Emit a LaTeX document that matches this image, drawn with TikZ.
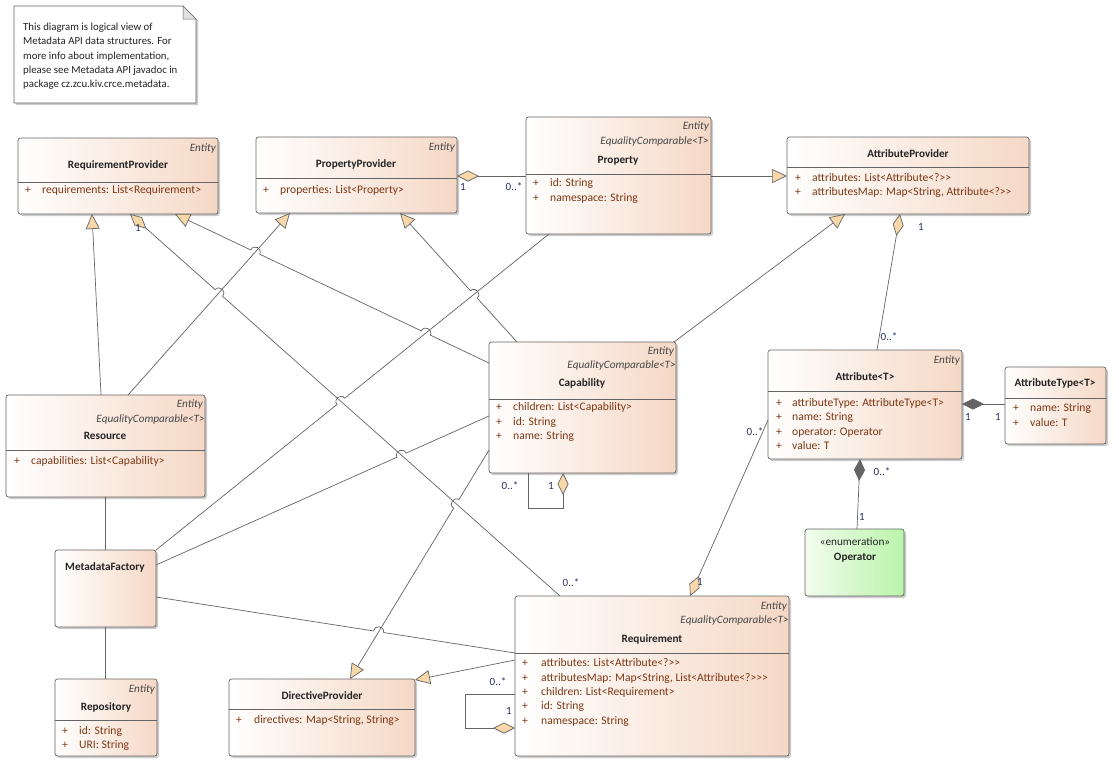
\documentclass[tikz,border=0pt]{standalone}
\usepackage{fontspec}
\setmainfont{Carlito}
\usetikzlibrary{arrows.meta,shadows,calc,intersections}
\definecolor{peach}{RGB}{245,216,198}
\definecolor{bord}{RGB}{100,100,100}
\definecolor{tri}{RGB}{248,215,168}
\definecolor{attc}{RGB}{125,55,20}
\definecolor{lblc}{RGB}{40,48,90}
\definecolor{txtc}{RGB}{35,35,35}
\definecolor{entc}{RGB}{70,70,70}
\definecolor{grnL}{RGB}{242,252,238}
\definecolor{grnR}{RGB}{186,244,170}
\definecolor{foldc}{RGB}{225,225,225}
\tikzset{
  cls/.style={draw=bord, line width=0.7pt, rounded corners=2.5pt, left color=white, right color=peach,
    drop shadow={shadow xshift=2pt,shadow yshift=-2pt,opacity=0.4}, inner sep=0pt, outer sep=0pt, anchor=north west},
  sepl/.style={draw=bord, line width=0.6pt},
  ent/.style={font=\fontsize{11.2}{13}\selectfont\itshape, text=entc, anchor=east, inner sep=0pt, text height=7.5pt, text depth=2pt},
  ttl/.style={font=\fontsize{11.2}{13}\selectfont\bfseries, text=txtc, anchor=center, inner sep=0pt, text height=7.5pt, text depth=2pt},
  att/.style={font=\fontsize{11.6}{13}\selectfont, text=attc, anchor=west, inner sep=0pt, text height=7.5pt, text depth=2pt},
  lab/.style={font=\fontsize{11}{13}\selectfont, text=lblc, inner sep=0pt, text height=7.5pt, text depth=2pt},
  conn/.style={draw=bord, line width=0.7pt},
  gen/.style={conn, -{Triangle[length=15pt,width=14pt,fill=tri]}},
  agg/.style={conn, {Diamond[length=22pt,width=11pt,fill=tri]}-},
  cmp/.style={conn, {Diamond[length=22pt,width=11pt,fill=bord]}-},
  hopl/.style={bend left=90, looseness=1.7},
  hopr/.style={bend right=90, looseness=1.7},
}
\begin{document}
\begin{tikzpicture}[x=1pt,y=-1pt]
\useasboundingbox (0,0) rectangle (1119,766);
\fill[white] (0,0) rectangle (1119,766);

% note
\path[draw=bord, line width=0.6pt, fill=white, drop shadow={shadow xshift=2pt,shadow yshift=-2pt,opacity=0.4}]
  (14,6) -- (183,6) -- (196,19) -- (196,103) -- (14,103) -- cycle;
\path[draw=bord, line width=0.5pt, fill=foldc] (183,6) -- (183,19) -- (196,19) -- cycle;
\node[font=\fontsize{10.8}{14.2}\selectfont, text=txtc, align=left, anchor=north west, inner sep=0pt] (notetext) at (23,23)
  {This diagram is logical view of\\Metadata API data structures. For\\more info about implementation,\\please see Metadata API javadoc in\\package cz.zcu.kiv.crce.metadata.};

% RequirementProvider
\node[cls, minimum width=200pt, minimum height=76pt] (rp) at (18,138) {};
\draw[sepl] (rp.west |- 0,182) -- (rp.east |- 0,182);
\node[ent] (rp-e) at (216,149) {Entity};
\node[ttl] (rp-t) at (118,166) {RequirementProvider};
\node[att] (rp-p1) at (25,191) {+};
\node[att] (rp-a1) at (42,191) {requirements: List<Requirement>};

% PropertyProvider
\node[cls, minimum width=201pt, minimum height=76pt] (pp) at (256,137) {};
\draw[sepl] (pp.west |- 0,178) -- (pp.east |- 0,178);
\node[ent] (pp-e) at (455,148) {Entity};
\node[ttl] (pp-t) at (356,165) {PropertyProvider};
\node[att] (pp-p1) at (263,191) {+};
\node[att] (pp-a1) at (280,191) {properties: List<Property>};

% Property
\node[cls, minimum width=185pt, minimum height=117pt] (prop) at (526,117) {};
\draw[sepl] (prop.west |- 0,174) -- (prop.east |- 0,174);
\node[ent] (prop-e) at (709,127) {Entity};
\node[ent] (prop-c) at (709,142) {EqualityComparable<T>};
\node[ttl] (prop-t) at (618,161) {Property};
\node[att] (prop-p1) at (533,184) {+};
\node[att] (prop-a1) at (550,184) {id: String};
\node[att] (prop-p2) at (533,199) {+};
\node[att] (prop-a2) at (550,199) {namespace: String};

% AttributeProvider
\node[cls, minimum width=242pt, minimum height=77pt] (ap) at (787,137) {};
\draw[sepl] (ap.west |- 0,167) -- (ap.east |- 0,167);
\node[ttl] (ap-t) at (908,155) {AttributeProvider};
\node[att] (ap-p1) at (795,179) {+};
\node[att] (ap-a1) at (812,179) {attributes: List<Attribute<?>{}>};
\node[att] (ap-p2) at (795,193) {+};
\node[att] (ap-a2) at (812,193) {attributesMap: Map<String, Attribute<?>{}>};

% Capability
\node[cls, minimum width=187pt, minimum height=131pt] (cap) at (489,342) {};
\draw[sepl] (cap.west |- 0,399) -- (cap.east |- 0,399);
\node[ent] (cap-e) at (674,352) {Entity};
\node[ent] (cap-c) at (676,366) {EqualityComparable<T>};
\node[ttl] (cap-tt) at (582,384) {Capability};
\node[att] (cap-p1) at (496,408) {+};
\node[att] (cap-a1) at (513,408) {children: List<Capability>};
\node[att] (cap-p2) at (496,423) {+};
\node[att] (cap-a2) at (513,423) {id: String};
\node[att] (cap-p3) at (496,437) {+};
\node[att] (cap-a3) at (513,437) {name: String};

% Resource
\node[cls, minimum width=199pt, minimum height=102pt] (res) at (6,395) {};
\draw[sepl] (res.west |- 0,450) -- (res.east |- 0,450);
\node[ent] (res-e) at (203,405) {Entity};
\node[ent] (res-c) at (205,420) {EqualityComparable<T>};
\node[ttl] (res-t) at (105,437) {Resource};
\node[att] (res-p1) at (14,462) {+};
\node[att] (res-a1) at (31,462) {capabilities: List<Capability>};

% MetadataFactory
\node[cls, minimum width=101pt, minimum height=77pt] (mf) at (55,550) {};
\node[ttl] (mf-tt) at (105,568) {MetadataFactory};

% Repository
\node[cls, minimum width=102pt, minimum height=77pt] (repo) at (55,679) {};
\draw[sepl] (repo.west |- 0,720) -- (repo.east |- 0,720);
\node[ent] (repo-e) at (155,690) {Entity};
\node[ttl] (repo-tt) at (106,708) {Repository};
\node[att] (repo-p1) at (62,732) {+};
\node[att] (repo-a1) at (79,732) {id: String};
\node[att] (repo-p2) at (62,746) {+};
\node[att] (repo-a2) at (79,746) {URI: String};

% DirectiveProvider
\node[cls, minimum width=186pt, minimum height=77pt] (dp) at (229,679) {};
\draw[sepl] (dp.west |- 0,709) -- (dp.east |- 0,709);
\node[ttl] (dp-tt) at (322,697) {DirectiveProvider};
\node[att] (dp-p1) at (236,721) {+};
\node[att] (dp-a1) at (254,721) {directives: Map<String, String>};

% Requirement
\node[cls, minimum width=274pt, minimum height=160pt] (req) at (515,596) {};
\draw[sepl] (req.west |- 0,653) -- (req.east |- 0,653);
\node[ent] (req-e) at (787,607) {Entity};
\node[ent] (req-c) at (789,621) {EqualityComparable<T>};
\node[ttl] (req-tt) at (652,640) {Requirement};
\node[att] (req-p1) at (522,664) {+};
\node[att] (req-a1) at (541,664) {attributes: List<Attribute<?>{}>};
\node[att] (req-p2) at (522,679) {+};
\node[att] (req-a2) at (541,679) {attributesMap: Map<String, List<Attribute<?>{}>{}>};
\node[att] (req-p3) at (522,693) {+};
\node[att] (req-a3) at (541,693) {children: List<Requirement>};
\node[att] (req-p4) at (522,707) {+};
\node[att] (req-a4) at (541,707) {id: String};
\node[att] (req-p5) at (522,722) {+};
\node[att] (req-a5) at (541,722) {namespace: String};

% Attribute<T>
\node[cls, minimum width=194pt, minimum height=109pt] (attr) at (768,350) {};
\draw[sepl] (attr.west |- 0,391) -- (attr.east |- 0,391);
\node[ent] (attr-e) at (960,361) {Entity};
\node[ttl] (attr-tt) at (865,378) {Attribute<T>};
\node[att] (attr-p1) at (776,404) {+};
\node[att] (attr-a1) at (792,404) {attributeType: AttributeType<T>};
\node[att] (attr-p2) at (776,418) {+};
\node[att] (attr-a2) at (792,418) {name: String};
\node[att] (attr-p3) at (776,433) {+};
\node[att] (attr-a3) at (792,433) {operator: Operator};
\node[att] (attr-p4) at (776,447) {+};
\node[att] (attr-a4) at (792,447) {value: T};

% AttributeType<T>
\node[cls, minimum width=101pt, minimum height=77pt] (at) at (1005,367) {};
\draw[sepl] (at.west |- 0,398) -- (at.east |- 0,398);
\node[ttl] (at-tt) at (1055,384) {AttributeType<T>};
\node[att] (at-p1) at (1013,409) {+};
\node[att] (at-a1) at (1030,409) {name: String};
\node[att] (at-p2) at (1013,424) {+};
\node[att] (at-a2) at (1030,424) {value: T};

% Operator
\node[cls, left color=grnL, right color=grnR, minimum width=99pt, minimum height=67pt] (op) at (805,529) {};
\node[ttl, font=\fontsize{11.2}{13}\selectfont] (op-s) at (855,543) {«enumeration»};
\node[ttl] (op-tt) at (855,558) {Operator};

% connection points
\coordinate (pp-r) at ([yshift=-1pt]pp.east);
\coordinate (prop-l) at ([yshift=-0.5pt]prop.west);
\coordinate (prop-r) at ([yshift=-0.5pt]prop.east);
\coordinate (ap-l) at ([yshift=-0.5pt]ap.west);
\coordinate (prop-b) at ([xshift=23pt]prop.south west);
\coordinate (ap-b1) at ([xshift=58pt]ap.south west);
\coordinate (ap-b2) at ([xshift=113pt]ap.south west);
\coordinate (attr-t) at ([xshift=109pt]attr.north west);
\coordinate (attr-r) at ([yshift=-54pt]attr.north east);
\coordinate (attr-b) at ([xshift=92pt]attr.south west);
\coordinate (attr-l) at ([yshift=-70pt]attr.north west);
\coordinate (at-l) at ([yshift=-37pt]at.north west);
\coordinate (op-t) at ([xshift=52pt]op.north west);
\coordinate (cap-tr) at ([xshift=-2pt]cap.north east);
\coordinate (cap-t) at ([xshift=28pt]cap.north west);
\coordinate (cap-l1) at ([yshift=-21pt]cap.north west);
\coordinate (cap-l2) at ([yshift=-74pt]cap.north west);
\coordinate (cap-l3) at ([yshift=-108pt]cap.north west);
\coordinate (cap-b1) at ([xshift=39pt]cap.south west);
\coordinate (cap-b2) at ([xshift=74pt]cap.south west);
\coordinate (rp-b1) at ([xshift=74pt]rp.south west);
\coordinate (rp-b2) at ([xshift=112pt]rp.south west);
\coordinate (rp-b3) at ([xshift=157pt]rp.south west);
\coordinate (pp-b1) at ([xshift=34pt]pp.south west);
\coordinate (pp-b2) at ([xshift=144pt]pp.south west);
\coordinate (res-t1) at ([xshift=95pt]res.north west);
\coordinate (res-t2) at ([xshift=122pt]res.north west);
\coordinate (res-b) at ([xshift=99pt]res.south west);
\coordinate (mf-t) at ([xshift=50pt]mf.north west);
\coordinate (mf-r1) at (mf.north east);
\coordinate (mf-r2) at ([yshift=-15pt]mf.north east);
\coordinate (mf-r3) at ([yshift=-47pt]mf.north east);
\coordinate (mf-b) at ([xshift=50pt]mf.south west);
\coordinate (repo-t) at ([xshift=50pt]repo.north west);
\coordinate (dp-t) at ([xshift=121pt]dp.north west);
\coordinate (dp-tr) at ([yshift=-1pt]dp.north east);
\coordinate (req-t1) at ([xshift=175pt]req.north west);
\coordinate (req-t2) at ([xshift=45pt]req.north west);
\coordinate (req-l1) at ([yshift=-57pt]req.north west);
\coordinate (req-l2) at ([yshift=-64pt]req.north west);
\coordinate (req-l3) at ([yshift=-98pt]req.north west);
\coordinate (req-l4) at ([yshift=-132pt]req.north west);

% crossing points
\path[name path=L8] (cap-t) -- (pp-b2);
\path[name path=L9] (cap-l1) -- (rp-b3);
\path[name path=L11] (res-t2) -- (pp-b1);
\path[name path=L12] (rp-b2) -- (req-t2);
\path[name path=L13] (prop-b) -- (mf-r1);
\path[name path=L14] (cap-l2) -- (mf-r2);
\path[name path=L15] (mf-r3) -- (req-l1);
\path[name path=L18] (cap-l3) -- (dp-t);
\path[name intersections={of=L12 and L11, by=X1}];
\path[name intersections={of=L13 and L12, by=X2}];
\path[name intersections={of=L14 and L12, by=X3}];
\path[name intersections={of=L18 and L12, by=X4}];
\path[name intersections={of=L9 and L11, by=X5}];
\path[name intersections={of=L9 and L13, by=X6}];
\path[name intersections={of=L8 and L13, by=X7}];
\path[name intersections={of=L15 and L18, by=X8}];

% connectors
\draw[agg] (pp-r) -- (prop-l);
\draw[gen] (prop-r) -- (ap-l);
\draw[agg] (ap-b2) -- (attr-t);
\draw[cmp] (attr-r) -- (at-l);
\draw[cmp] (attr-b) -- (op-t);
\draw[agg] (req-t1) -- (attr-l);
\draw[gen] (cap-tr) -- (ap-b1);
\draw[gen] (cap-t) -- ($(X7)!5pt!(cap-t)$) to[hopr] ($(X7)!5pt!(pp-b2)$) -- (pp-b2);
\draw[gen] (cap-l1) -- ($(X6)!5pt!(cap-l1)$) to[hopr] ($(X6)!5pt!(rp-b3)$)
  -- ($(X5)!5pt!(cap-l1)$) to[hopr] ($(X5)!5pt!(rp-b3)$) -- (rp-b3);
\draw[gen] (res-t1) -- (rp-b1);
\draw[gen] (res-t2) -- (pp-b1);
\draw[agg] (rp-b2) -- ($(X1)!5pt!(rp-b2)$) to[hopl] ($(X1)!5pt!(req-t2)$) -- (req-t2);
\draw[conn] (prop-b) -- ($(X2)!5pt!(prop-b)$) to[hopr] ($(X2)!5pt!(mf-r1)$) -- (mf-r1);
\draw[conn] (cap-l2) -- ($(X3)!5pt!(cap-l2)$) to[hopr] ($(X3)!5pt!(mf-r2)$) -- (mf-r2);
\draw[conn] (mf-r3) -- ($(X8)!5pt!(mf-r3)$) to[hopl] ($(X8)!5pt!(req-l1)$) -- (req-l1);
\draw[conn] (res-b) -- (mf-t);
\draw[conn] (mf-b) -- (repo-t);
\draw[gen] (cap-l3) -- ($(X4)!5pt!(cap-l3)$) to[hopr] ($(X4)!5pt!(dp-t)$) -- (dp-t);
\draw[gen] (req-l2) -- (dp-tr);
\draw[agg] (req-l4) -- ++(-50,0) |- (req-l3);
\draw[agg] (cap-b2) -- ++(0,35) -| (cap-b1);

% multiplicities
\node[lab] (m1a) at (463,188) {1};
\node[lab] (m1b) at (514,188) {0..*};
\node[lab] (m3a) at (921,228) {1};
\node[lab] (m3b) at (889,338) {0..*};
\node[lab] (m4a) at (968,418) {1};
\node[lab] (m4b) at (998,418) {1};
\node[lab] (m5a) at (882,473) {0..*};
\node[lab] (m5b) at (862,518) {1};
\node[lab] (m6a) at (700,583) {1};
\node[lab] (m6b) at (755,433) {0..*};
\node[lab] (m12a) at (138,229) {1};
\node[lab] (m12b) at (571,584) {0..*};
\node[lab] (m21a) at (510,487) {0..*};
\node[lab] (m21b) at (551,487) {1};
\node[lab] (m20a) at (498,683) {0..*};
\node[lab] (m20b) at (509,712) {1};
\end{tikzpicture}
\end{document}
